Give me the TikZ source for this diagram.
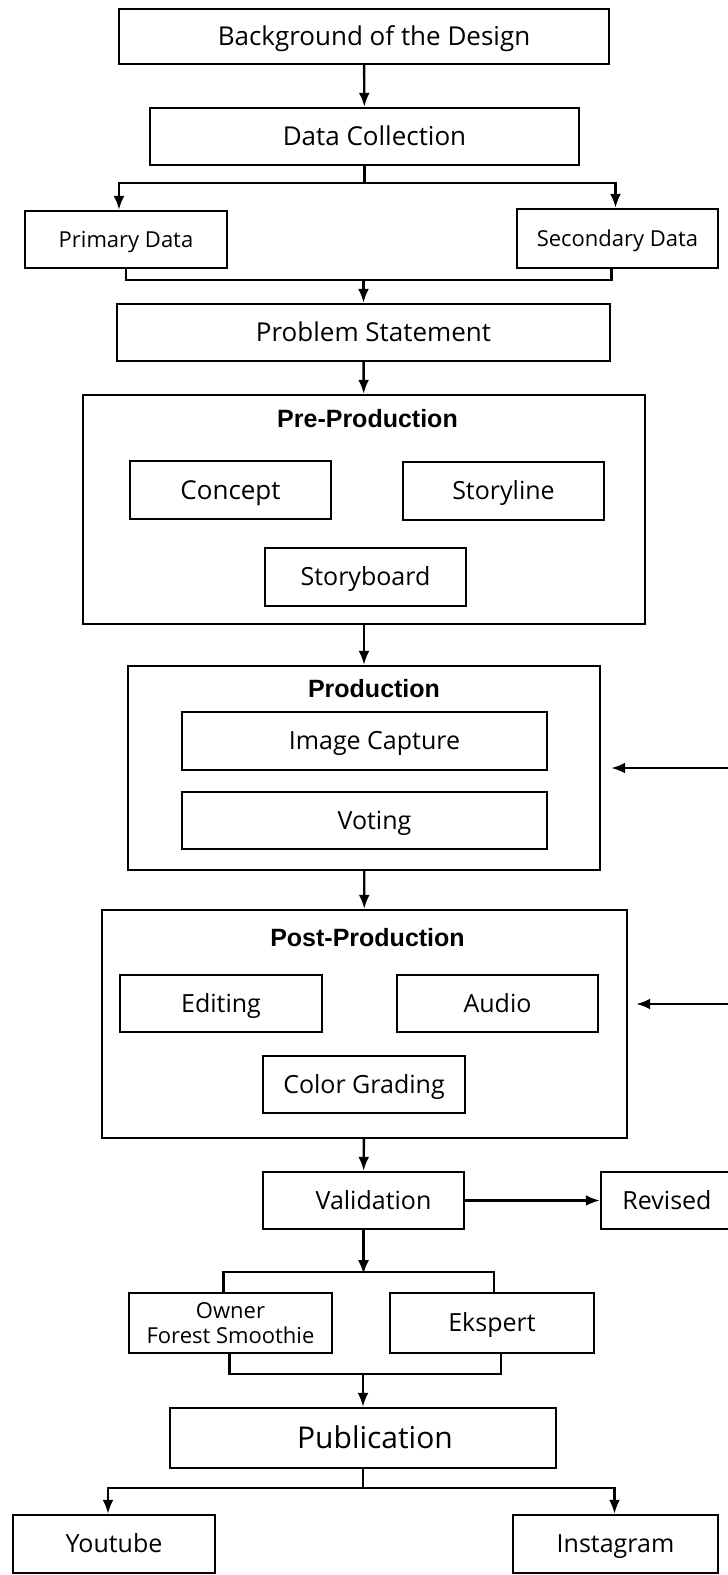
\documentclass[tikz,border=0pt]{standalone}
\usepackage{fontspec}
\setmainfont{Open Sans}
\newfontfamily\titlefont{Liberation Sans}
\usetikzlibrary{arrows.meta}
\newcommand{\nudge}{\hspace*{20pt}}

\begin{document}
\begin{tikzpicture}[x=1pt, y=-1pt, >={Latex[length=14pt,width=11pt]}, line width=2.4pt,
	plainbox/.style={draw, line width=2.4pt, inner sep=0pt, minimum width=201pt, minimum height=57pt, align=center},
	box/.style={plainbox, text depth=0pt},
	group/.style={draw, line width=2.4pt, inner sep=0pt},
	grouptitle/.style={font=\titlefont\bfseries\fontsize{25}{30}\selectfont, text height=17.9pt, text depth=0pt},
	fbig/.style={font=\fontsize{26}{31}\selectfont, text height=18.6pt},
	fmid/.style={font=\fontsize{25}{30}\selectfont, text height=17.9pt},
	fsmall/.style={font=\fontsize{22}{26}\selectfont, text height=15.7pt}]
	\useasboundingbox (0,0) rectangle (728,1575);
	% top of the flow
	\node[box, fbig, minimum width=490pt, minimum height=55pt] (bg) at (364,36.5) {\nudge Background of the Design};
	\node[box, fbig, minimum width=429pt] (collect) at (364.5,136.5) {\nudge Data Collection};
	\node[box, fsmall, minimum width=202pt] (primary) at (126,239.5) {Primary Data};
	\node[box, fsmall, minimum height=59pt] (secondary) at (617.5,238.5) {Secondary Data};
	\node[box, fbig, minimum width=493pt] (problem) at (363.5,332.5) {\nudge Problem Statement};
	% pre-production
	\node[group, minimum width=562pt, minimum height=229pt] (pre) at (364,509.5) {};
	\node[grouptitle] (pretitle) at (367.5,419) {Pre-Production};
	\node[box, fbig, minimum height=58pt] (concept) at (230.5,490) {Concept};
	\node[box, fmid, minimum height=58pt] (storyline) at (503.5,491) {Storyline};
	\node[box, fmid, minimum height=58pt] (storyboard) at (365.5,577) {Storyboard};
	% production
	\node[group, minimum width=472pt, minimum height=204pt] (prod) at (364,768) {};
	\node[grouptitle] (prodtitle) at (374,689) {Production};
	\node[box, fmid, minimum width=365pt, minimum height=58pt] (capture) at (364.5,741) {\nudge Image Capture};
	\node[box, fmid, minimum width=365pt] (voting) at (364.5,820.5) {\nudge Voting};
	% post-production
	\node[group, minimum width=525pt, minimum height=228pt] (post) at (364.5,1024) {};
	\node[grouptitle] (posttitle) at (367.5,938) {Post-Production};
	\node[box, fmid, minimum width=202pt] (editing) at (221,1003.5) {Editing};
	\node[box, fmid] (audio) at (497.5,1003.5) {Audio};
	\node[box, fmid, minimum width=202pt] (grading) at (364,1084.5) {Color Grading};
	% validation and publication
	\node[box, fmid] (valid) at (363.5,1200.5) {\nudge Validation};
	\node[box, fmid, minimum width=132pt] (revised) at (667,1200.5) {Revised};
	\node[plainbox, font=\fontsize{22}{25}\selectfont, minimum width=203pt, minimum height=60pt] (owner) at (230.5,1323) {Owner\\Forest Smoothie};
	\node[box, fmid, minimum width=204pt, minimum height=60pt] (ekspert) at (492,1323) {Ekspert};
	\node[box, font=\fontsize{30}{36}\selectfont, text height=21.4pt, minimum width=386pt, minimum height=60pt] (pub) at (363,1438) {\hspace*{24pt}Publication};
	\node[box, fmid, minimum width=202pt, minimum height=58pt] (youtube) at (114,1544) {Youtube};
	\node[box, fmid, minimum width=205pt, minimum height=58pt] (instagram) at (615.5,1544) {Instagram};
	% connectors
	\draw[->] (bg) -- (collect);
	\draw (collect.south) -- ++(0,17) coordinate (split1);
	\draw[->] (split1) -| ([xshift=-7pt]primary.north);
	\draw[->] (split1) -| ([xshift=-2pt]secondary.north);
	\draw (primary.south) -- ++(0,11) coordinate (join1) -| ([xshift=-6pt]secondary.south);
	\draw[->] (join1 -| problem.north) -- (problem.north);
	\draw[->] (problem) -- (pre);
	\draw[->] (pre) -- (prod);
	\draw[->] (prod) -- (post);
	\draw[->] (post) -- (valid);
	\coordinate (back1) at (740,768);
	\coordinate (back2) at (740,1004);
	\draw[->] (back1) -- ([xshift=10pt]prod.east);
	\draw[->] (back2) -- ([xshift=8pt,yshift=20pt]post.east);
	\draw[->] (valid) -- (revised);
	\draw[->] (valid.south) -- ++(0,44) coordinate (split2);
	\draw ([xshift=-7pt]owner.north) -- ++(0,-20) -| ([xshift=2pt]ekspert.north);
	\draw ([xshift=-1pt]owner.south) -- ++(0,20) coordinate (join2) -| ([xshift=9pt]ekspert.south);
	\draw[->] (join2 -| pub.north) -- (pub.north);
	\draw (pub.south) -- ++(0,19) coordinate (split3);
	\draw[->] (split3) -| ([xshift=-6pt]youtube.north);
	\draw[->] (split3) -| ([xshift=-1pt]instagram.north);
\end{tikzpicture}
\end{document}
